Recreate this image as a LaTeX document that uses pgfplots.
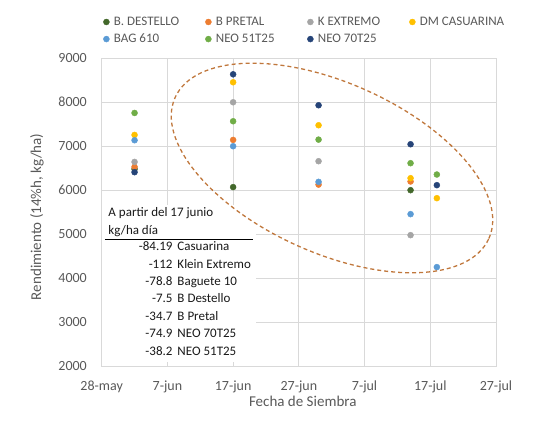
\documentclass[border=0pt]{standalone}
\usepackage{fontspec}
\setmainfont{Carlito}
\usepackage{pgfplots}
\pgfplotsset{compat=1.18}
\definecolor{cDest}{HTML}{43682B}
\definecolor{cPret}{HTML}{ED7D31}
\definecolor{cKext}{HTML}{A5A5A5}
\definecolor{cCas}{HTML}{FFC000}
\definecolor{cBag}{HTML}{5B9BD5}
\definecolor{cN51}{HTML}{70AD47}
\definecolor{cN70}{HTML}{264478}
\definecolor{cGrid}{HTML}{D9D9D9}
\definecolor{cTxt}{HTML}{595959}
\definecolor{cEll}{HTML}{C0773C}
\newcommand{\LE}[1]{\makebox[93pt][l]{\hspace{3pt}#1}}
\begin{document}
\begin{tikzpicture}
\useasboundingbox (-101.7pt,-58pt) rectangle (440.3pt,366pt);
\begin{axis}[
 name=ax, at={(0pt,0pt)}, anchor=south west,
 scale only axis, width=394.3pt, height=307.7pt,
 xmin=0, xmax=60, ymin=2000, ymax=9000,
 xtick={0,10,...,60}, xticklabels={28-may,7-jun,17-jun,27-jun,7-jul,17-jul,27-jul},
 ytick={2000,3000,...,9000}, yticklabels={2000,3000,4000,5000,6000,7000,8000,9000},
 major tick length=0pt,
 grid=major, grid style={cGrid, line width=0.8pt},
 axis line style={cGrid, line width=0.8pt},
 tick label style={font=\fontsize{14}{16}\selectfont, text=cTxt, inner sep=0pt},
 x tick label style={anchor=base, yshift=-24pt},
 y tick label style={anchor=east, xshift=-14.7pt},
 xlabel={Fecha de Siembra}, ylabel={Rendimiento (14\%h, kg/ha)},
 label style={font=\fontsize{15}{17}\selectfont, text=cTxt},
 xlabel style={at={(axis description cs:0.51,-0.116)}, anchor=center},
 ylabel style={at={(axis description cs:-0.164,0.485)}, anchor=center},
 legend columns=4,
 legend cell align=left,
 legend style={draw=none, fill=none, at={(axis description cs:0,1)}, anchor=north west, xshift=1.5pt, yshift=43pt, font=\fontsize{13}{15}\selectfont, text=cTxt, inner sep=0pt, row sep=4pt, nodes={inner sep=1.5pt}},
 legend image code/.code={\draw[#1] plot coordinates {(3pt,0pt)};},
 clip=false,
]
\addplot[only marks, mark=*, mark size=3pt, color=cDest] coordinates {(5,6480) (20,6070) (47,6000)};
\addlegendentry{\LE{B. DESTELLO}}
\addplot[only marks, mark=*, mark size=3pt, color=cPret] coordinates {(5,6530) (20,7143) (33,6127) (47,6197)};
\addlegendentry{\LE{B PRETAL}}
\addplot[only marks, mark=*, mark size=3pt, color=cKext] coordinates {(5,6643) (20,8000) (33,6659) (47,4977)};
\addlegendentry{\LE{K EXTREMO}}
\addplot[only marks, mark=*, mark size=3pt, color=cCas] coordinates {(5,7257) (20,8455) (33,7477) (47,6273) (51,5818)};
\addlegendentry{\LE{DM CASUARINA}}
\addplot[only marks, mark=*, mark size=3pt, color=cBag] coordinates {(5,7136) (20,7000) (33,6189) (47,5455) (51,4250)};
\addlegendentry{\LE{BAG 610}}
\addplot[only marks, mark=*, mark size=3pt, color=cN51] coordinates {(5,7757) (20,7568) (33,7150) (47,6614) (51,6356)};
\addlegendentry{\LE{NEO 51T25}}
\addplot[only marks, mark=*, mark size=3pt, color=cN70] coordinates {(5,6409) (20,8636) (33,7932) (47,7045) (51,6114)};
\addlegendentry{\LE{NEO 70T25}}
\end{axis}
\fill[white] (0.6pt,4pt) rectangle (154.3pt,161pt);
\begin{scope}[font=\fontsize{13}{15}\selectfont, text=black!90]
\node[anchor=mid west, inner sep=0pt] at (6.6pt,151.7pt) {A partir del 17 junio};
\node[anchor=mid west, inner sep=0pt] at (6.6pt,134.3pt) {kg/ha día};
\draw[black, line width=0.9pt] (3.3pt,126.7pt) -- (151.3pt,126.7pt);
\node[anchor=mid east, inner sep=0pt] at (71pt,117.7pt) {-84.19};
\node[anchor=mid west, inner sep=0pt] at (75.6pt,117.7pt) {Casuarina};
\node[anchor=mid east, inner sep=0pt] at (71pt,100pt) {-112};
\node[anchor=mid west, inner sep=0pt] at (75.6pt,100pt) {Klein Extremo};
\node[anchor=mid east, inner sep=0pt] at (71pt,83.3pt) {-78.8};
\node[anchor=mid west, inner sep=0pt] at (75.6pt,83.3pt) {Baguete 10};
\node[anchor=mid east, inner sep=0pt] at (71pt,66pt) {-7.5};
\node[anchor=mid west, inner sep=0pt] at (75.6pt,66pt) {B Destello};
\node[anchor=mid east, inner sep=0pt] at (71pt,48.3pt) {-34.7};
\node[anchor=mid west, inner sep=0pt] at (75.6pt,48.3pt) {B Pretal};
\node[anchor=mid east, inner sep=0pt] at (71pt,31pt) {-74.9};
\node[anchor=mid west, inner sep=0pt] at (75.6pt,31pt) {NEO 70T25};
\node[anchor=mid east, inner sep=0pt] at (71pt,12.7pt) {-38.2};
\node[anchor=mid west, inner sep=0pt] at (75.6pt,12.7pt) {NEO 51T25};
\end{scope}
\draw[cEll, line width=1.3pt, dash pattern=on 4pt off 3pt, rotate around={-24.2:(230.3pt,198pt)}] (230.3pt,198pt) ellipse (172pt and 85pt);
\end{tikzpicture}
\end{document}
